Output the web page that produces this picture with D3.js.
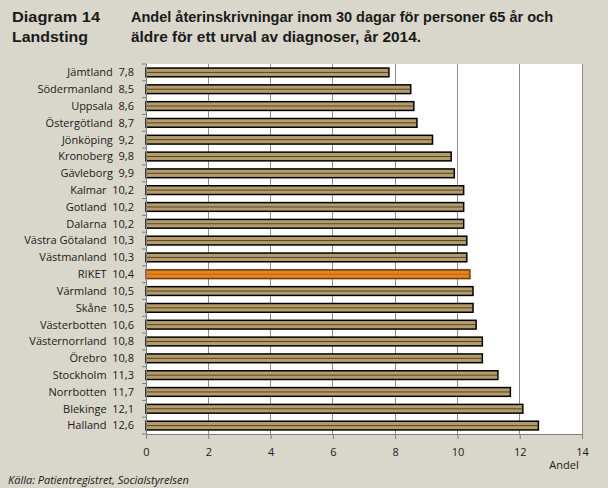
<!DOCTYPE html>
<html><head><meta charset="utf-8">
<script src="https://cdn.jsdelivr.net/npm/d3@7"></script>
<style>body{margin:0;background:#d9d6cb;} svg{display:block;}</style>
</head><body>
<svg id="c" width="608" height="488"></svg>
<script>
const categories = ["Jämtland","Södermanland","Uppsala","Östergötland","Jönköping","Kronoberg","Gävleborg","Kalmar","Gotland","Dalarna","Västra Götaland","Västmanland","RIKET","Värmland","Skåne","Västerbotten","Västernorrland","Örebro","Stockholm","Norrbotten","Blekinge","Halland"];
const values = [7.8,8.5,8.6,8.7,9.2,9.8,9.9,10.2,10.2,10.2,10.3,10.3,10.4,10.5,10.5,10.6,10.8,10.8,11.3,11.7,12.1,12.6];
const xTicks = [0,2,4,6,8,10,12,14];
const highlight = "RIKET";

(function(){
const svg = d3.select("#c");
const fmt = v => d3.format(".1f")(v).replace(".", ",");
const pL = 146, pR = 582, pT = 64, pB = 434;
const x = d3.scaleLinear().domain([0,14]).range([pL,pR]);
const y = d3.scaleBand().domain(categories).range([pT,pB]).paddingInner(0.48).paddingOuter(0.24);

svg.append("rect").attr("x",pL).attr("y",pT).attr("width",pR-pL).attr("height",pB-pT).attr("fill","#fff");

svg.append("g").selectAll("line").data(xTicks.filter(d=>d>0)).join("line")
  .attr("x1",d=>x(d)).attr("x2",d=>x(d)).attr("y1",pT).attr("y2",pB)
  .attr("stroke","#8c8c8c").attr("stroke-width",1).attr("shape-rendering","crispEdges");

const g = svg.append("g");
categories.forEach((c,i)=>{
  const v = values[i];
  const fill = c===highlight ? "#e5831f" : "#b59c6b";
  const stroke = c===highlight ? "#6b3a08" : "#000";
  g.append("rect").attr("x",x(0)).attr("y",y(c)).attr("width",x(v)-x(0)).attr("height",y.bandwidth())
    .attr("fill",fill).attr("stroke",stroke).attr("stroke-width",1.5);
  g.append("line").attr("x1",x(0)).attr("x2",x(v)).attr("y1",y(c)+y.bandwidth()/2).attr("y2",y(c)+y.bandwidth()/2)
    .attr("stroke",c===highlight ? "#b85a0a" : "#3a2e18").attr("stroke-width",0.8);
});

const yAxisG = svg.append("g");
yAxisG.append("line").attr("x1",pL+0.5).attr("x2",pL+0.5).attr("y1",pT).attr("y2",pB).attr("stroke","#7f7f7f");
const step = (pB-pT)/categories.length;
d3.range(categories.length+1).forEach(i=>{
  yAxisG.append("line").attr("x1",pL-4).attr("x2",pL).attr("y1",pT+i*step).attr("y2",pT+i*step).attr("stroke","#7f7f7f");
});
yAxisG.selectAll("text").data(categories).join("text")
  .attr("x",134).attr("y",d=>y(d)+y.bandwidth()/2).attr("dy","0.35em")
  .attr("text-anchor","end").attr("font-family","'Open Sans', sans-serif").attr("font-size",11).attr("fill","#1a1a1a")
  .attr("xml:space","preserve")
  .text((d,i)=>d+"  "+fmt(values[i]));

const xAxis = d3.axisBottom(x).tickValues(xTicks).tickSize(5).tickFormat(d=>d);
const xg = svg.append("g").attr("transform",`translate(0,${pB})`).call(xAxis);
xg.select(".domain").attr("stroke","#7f7f7f");
xg.selectAll(".tick line").attr("stroke","#7f7f7f");
xg.selectAll(".tick text").attr("font-family","'Open Sans', sans-serif").attr("font-size",11).attr("fill","#1a1a1a").attr("dy","1.25em");

svg.append("text").attr("x",564).attr("y",469).attr("text-anchor","middle")
  .attr("font-family","'Open Sans', sans-serif").attr("font-size",11).attr("fill","#1a1a1a").text("Andel");

const tf = "'Liberation Sans', sans-serif";
const T = (xx,yy,txt,len) => {
  const t = svg.append("text").attr("x",xx).attr("y",yy).attr("font-family",tf).attr("font-weight","bold").attr("font-size",15).attr("fill","#1a1a1a").text(txt);
  if (len) t.attr("textLength",len).attr("lengthAdjust","spacingAndGlyphs");
};
T(12,22,"Diagram 14",88);
T(12,42,"Landsting",76);
T(131,22,"Andel återinskrivningar inom 30 dagar för personer 65 år och",422);
T(131,42,"äldre för ett urval av diagnoser, år 2014.",290);

svg.append("text").attr("x",8).attr("y",484).attr("font-family","'Open Sans', sans-serif").attr("font-style","italic").attr("font-size",11).attr("fill","#1a1a1a").text("Källa: Patientregistret, Socialstyrelsen");
})();
</script>
</body></html>
